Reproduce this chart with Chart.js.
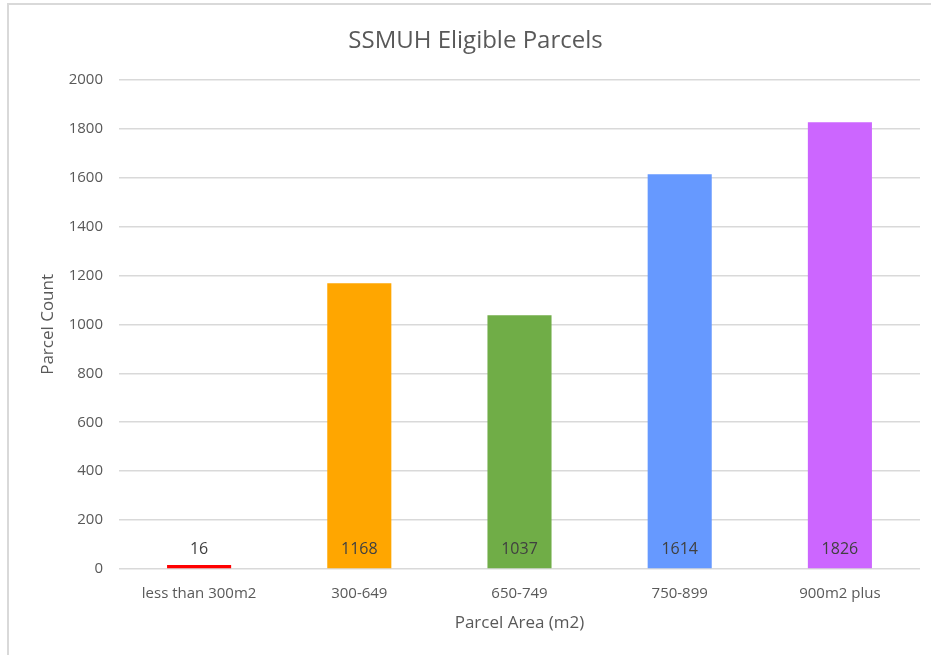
<!DOCTYPE html>
<html>
<head>
<meta charset="utf-8">
<script src="https://cdn.jsdelivr.net/npm/chart.js@4"></script>
<style>
  body { margin: 0; background: #fff; }
  #frame {
    position: absolute; left: 7px; top: 3px;
    width: 924px; height: 652px;
    border-left: 2px solid #d9d9d9; border-top: 2px solid #d9d9d9;
    box-sizing: border-box;
  }
  #chart { position: absolute; left: 0; top: 0; }
</style>
</head>
<body>
<div id="frame"><canvas id="chart" width="922" height="650"></canvas></div>
<script>
const categories = ['less than 300m2', '300-649', '650-749', '750-899', '900m2 plus'];
const parcelCounts = [16, 1168, 1037, 1614, 1826];
const barColors = ['#ff0000', '#ffa600', '#70ad47', '#6699ff', '#cc66ff'];
const yTicks = [0, 200, 400, 600, 800, 1000, 1200, 1400, 1600, 1800, 2000];

const fontFamily = '"Open Sans", "Noto Sans", sans-serif';

// labels sit just above the base of each bar, like Excel's "inside base"
const barLabels = {
  id: 'barLabels',
  afterDatasetsDraw(chart) {
    const ctx = chart.ctx;
    const meta = chart.getDatasetMeta(0);
    ctx.save();
    ctx.font = '16px ' + fontFamily;
    ctx.fillStyle = '#404040';
    ctx.textAlign = 'center';
    ctx.textBaseline = 'middle';
    meta.data.forEach((bar, i) => {
      ctx.fillText(String(parcelCounts[i]), bar.x, bar.base - 19);
    });
    ctx.restore();
  }
};

new Chart(document.getElementById('chart'), {
  type: 'bar',
  data: {
    labels: categories,
    datasets: [{
      data: parcelCounts,
      backgroundColor: barColors,
      barPercentage: 0.4,
      categoryPercentage: 1
    }]
  },
  options: {
    responsive: false,
    animation: false,
    layout: { padding: { left: 22, right: 11, top: 0, bottom: 0 } },
    plugins: {
      legend: { display: false },
      tooltip: { enabled: false },
      title: {
        display: true,
        text: 'SSMUH Eligible Parcels',
        color: '#595959',
        font: { family: fontFamily, size: 24, weight: 'normal' },
        padding: { top: 22, bottom: 24 }
      }
    },
    scales: {
      x: {
        grid: { display: false },
        border: { display: false },
        ticks: { color: '#595959', font: { family: fontFamily, size: 15 }, padding: 8 },
        title: {
          display: true, text: 'Parcel Area (m2)', color: '#595959',
          font: { family: fontFamily, size: 17 }, padding: { bottom: 22 }
        },
        afterFit(scale) { scale.height = 86; }
      },
      y: {
        min: 0, max: 2000,
        afterBuildTicks(scale) { scale.ticks = yTicks.map(v => ({ value: v })); },
        grid: { color: '#d9d9d9', lineWidth: 1.5, drawTicks: false },
        border: { display: false },
        ticks: {
          color: '#595959', font: { family: fontFamily, size: 15 }, padding: 16,
          callback: v => String(v)
        },
        title: {
          display: true, text: 'Parcel Count', color: '#595959',
          font: { family: fontFamily, size: 17 }, padding: { top: 7 }
        },
        afterFit(scale) { scale.width = 88; }
      }
    }
  },
  plugins: [barLabels]
});
</script>
</body>
</html>
